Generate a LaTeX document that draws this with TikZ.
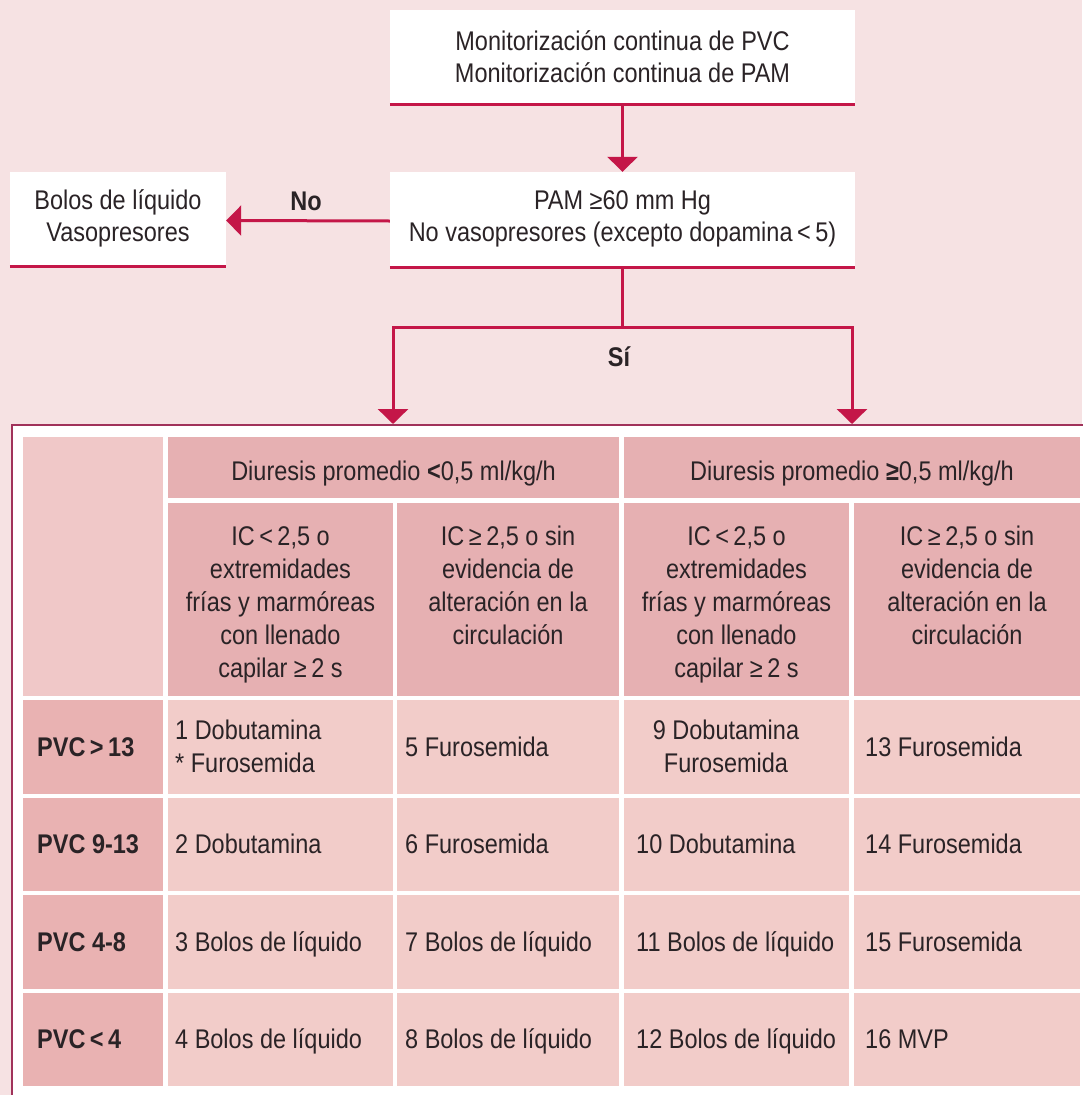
\documentclass[tikz,border=0pt]{standalone}
\usepackage{fontspec}
\setmainfont{Liberation Sans}[FakeStretch=0.87]
\usetikzlibrary{arrows.meta}

\definecolor{bg}{HTML}{F6E2E3}
\definecolor{crim}{HTML}{C41648}
\definecolor{framec}{HTML}{A0325A}
\definecolor{hdr}{HTML}{E6B0B2}
\definecolor{corner}{HTML}{F0C8C8}
\definecolor{rowlab}{HTML}{E9B2B2}
\definecolor{cellc}{HTML}{F2CCC9}
\definecolor{ink}{HTML}{2A2326}

\begin{document}
\begin{tikzpicture}[x=1pt,y=-1pt,
  font=\fontsize{27}{32}\selectfont, text=ink,
  flowbox/.style={fill=white, inner sep=0pt, align=center},
  boxrule/.style={draw=crim, line width=3.5pt},
  arr/.style={draw=crim, line width=3pt, -{Triangle[width=30pt,length=15pt]}},
  lbl/.style={font=\fontsize{27}{32}\selectfont\bfseries, inner sep=0pt},
  cellbox/.style={inner sep=0pt, anchor=north west},
  tabtxt/.style={font=\fontsize{27}{33}\selectfont, inner sep=0pt},
  rowhead/.style={font=\fontsize{27}{33}\selectfont\bfseries, inner sep=0pt, anchor=base west},
]
% page
\useasboundingbox (0,0) rectangle (1082,1095);
\fill[bg] (0,0) rectangle (1082,1095);

% flow part
\node[flowbox, minimum width=465pt, minimum height=93pt] (mon) at (622.5,56.5)
  {Monitorización continua de PVC\\Monitorización continua de PAM};
\node[flowbox, minimum width=465pt, minimum height=94pt] (pam) at (622.5,219)
  {PAM ≥60 mm Hg\\No vasopresores (excepto dopamina\,<\,5)};
\node[flowbox, minimum width=216pt, minimum height=93pt] (bol) at (118,218.5)
  {Bolos de líquido\\Vasopresores};

\draw[boxrule] ([yshift=-1.5pt]mon.south west) -- ([yshift=-1.5pt]mon.south east);
\draw[boxrule] ([yshift=-1.5pt]pam.south west) -- ([yshift=-1.5pt]pam.south east);
\draw[boxrule] ([yshift=-1.5pt]bol.south west) -- ([yshift=-1.5pt]bol.south east);

\draw[arr] (mon.south) -- (pam.north);
\draw[arr] ([yshift=-2pt]pam.west) -- ([yshift=-2pt]bol.east);
\node[lbl] (no) at (306,201) {No};

\coordinate (forkL) at (393,327);
\coordinate (forkR) at (852,327);
\coordinate (inL) at (393,424);
\coordinate (inR) at (852,424);
\draw[arr] (pam.south) |- (forkL) -- (inL);
\draw[arr] (pam.south) |- (forkR) -- (inR);
\node[lbl] (si) at (619,357) {Sí};

% table frame
\fill[white] (12,425) rectangle (1082,1095);
\draw[framec, line width=2pt] (12,1096) -- (12,425) -- (1083,425);

% header cells
\node[cellbox, fill=corner, minimum width=140pt, minimum height=259pt] (corner) at (23,437) {};
\node[cellbox, fill=hdr, minimum width=451pt, minimum height=61pt] (dlow) at (168,437) {};
\node[cellbox, fill=hdr, minimum width=456pt, minimum height=61pt] (dhigh) at (624,437) {};
\node[tabtxt, anchor=base] (dlowt) at (393.5,480) {Diuresis promedio \textbf{<}0,5 ml/kg/h};
\node[tabtxt, anchor=base] (dhight) at (852,480) {Diuresis promedio \textbf{≥}0,5 ml/kg/h};

\node[cellbox, fill=hdr, minimum width=224.5pt, minimum height=193pt] (ic1) at (168,503) {};
\node[cellbox, fill=hdr, minimum width=222pt, minimum height=193pt] (ic2) at (397,503) {};
\node[cellbox, fill=hdr, minimum width=225pt, minimum height=193pt] (ic3) at (624,503) {};
\node[cellbox, fill=hdr, minimum width=226pt, minimum height=193pt] (ic4) at (854,503) {};

\node[tabtxt, align=center, anchor=north] (ic1t) at (280.5,526)
  {IC\,<\,2,5 o\\extremidades\\frías y marmóreas\\con llenado\\capilar ≥\,2 s};
\node[tabtxt, align=center, anchor=north] (ic2t) at (508,526)
  {IC\,≥\,2,5 o sin\\evidencia de\\alteración en la\\circulación};
\node[tabtxt, align=center, anchor=north] (ic3t) at (736.5,526)
  {IC\,<\,2,5 o\\extremidades\\frías y marmóreas\\con llenado\\capilar ≥\,2 s};
\node[tabtxt, align=center, anchor=north] (ic4t) at (967,526)
  {IC\,≥\,2,5 o sin\\evidencia de\\alteración en la\\circulación};

% body cells
\foreach \r/\y in {1/700,2/797.5,3/895,4/992.5}{
  \node[cellbox, fill=rowlab, minimum width=140pt, minimum height=93.5pt] (r\r-c0) at (23,\y) {};
  \node[cellbox, fill=cellc, minimum width=224.5pt, minimum height=93.5pt] (r\r-c1) at (168,\y) {};
  \node[cellbox, fill=cellc, minimum width=222pt, minimum height=93.5pt] (r\r-c2) at (397,\y) {};
  \node[cellbox, fill=cellc, minimum width=225pt, minimum height=93.5pt] (r\r-c3) at (624,\y) {};
  \node[cellbox, fill=cellc, minimum width=226pt, minimum height=93.5pt] (r\r-c4) at (854,\y) {};
}

% row 1
\node[rowhead] (p1) at (37,756) {PVC\,>\,13};
\node[tabtxt, align=left, anchor=north west] (t1) at (175,720) {1 Dobutamina\\* Furosemida};
\node[tabtxt, anchor=base west] (t5) at (405,756) {5 Furosemida};
\node[tabtxt, align=center, anchor=north] (t9) at (726,720) {9 Dobutamina\\Furosemida};
\node[tabtxt, anchor=base west] (t13) at (865,756) {13 Furosemida};

% row 2
\node[rowhead] (p2) at (37,853) {PVC 9-13};
\node[tabtxt, anchor=base west] (t2) at (175,853) {2 Dobutamina};
\node[tabtxt, anchor=base west] (t6) at (405,853) {6 Furosemida};
\node[tabtxt, anchor=base west] (t10) at (636,853) {10 Dobutamina};
\node[tabtxt, anchor=base west] (t14) at (865,853) {14 Furosemida};

% row 3
\node[rowhead] (p3) at (37,951) {PVC 4-8};
\node[tabtxt, anchor=base west] (t3) at (175,951) {3 Bolos de líquido};
\node[tabtxt, anchor=base west] (t7) at (405,951) {7 Bolos de líquido};
\node[tabtxt, anchor=base west] (t11) at (636,951) {11 Bolos de líquido};
\node[tabtxt, anchor=base west] (t15) at (865,951) {15 Furosemida};

% row 4
\node[rowhead] (p4) at (37,1048) {PVC\,<\,4};
\node[tabtxt, anchor=base west] (t4) at (175,1048) {4 Bolos de líquido};
\node[tabtxt, anchor=base west] (t8) at (405,1048) {8 Bolos de líquido};
\node[tabtxt, anchor=base west] (t12) at (636,1048) {12 Bolos de líquido};
\node[tabtxt, anchor=base west] (t16) at (865,1048) {16 MVP};
\end{tikzpicture}
\end{document}
